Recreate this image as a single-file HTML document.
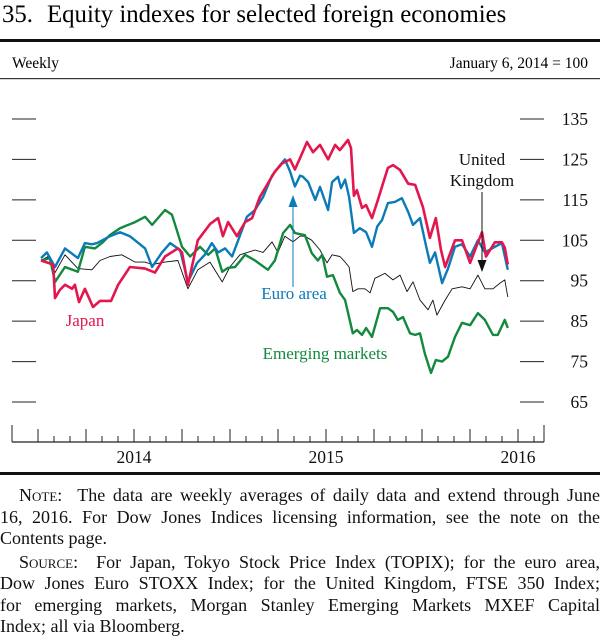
<!DOCTYPE html>
<html><head><meta charset="utf-8">
<style>
html,body{margin:0;padding:0;background:#fff;}
body{width:600px;height:635px;position:relative;overflow:hidden;font-family:"Liberation Serif",serif;color:#111;}
svg{position:absolute;left:0;top:0;}
.notes{position:absolute;left:0;top:485px;width:600px;font-size:18px;line-height:21.5px;}
.notes .ln{display:block;white-space:nowrap;text-align:justify;text-align-last:justify;}
.notes .last{text-align-last:left;}
.notes .ind{padding-left:19px;}
.src{margin-top:2px;}
.sc{font-variant:small-caps;}
</style></head>
<body>
<svg id="chart" width="600" height="635">
  <text x="2" y="22" font-size="24.8" font-family="Liberation Serif">35.</text>
  <text x="47" y="22" font-size="24.8" font-family="Liberation Serif">Equity indexes for selected foreign economies</text>
  <rect x="0" y="39" width="600" height="3" fill="#111"/>
  <text x="12" y="68" font-size="15.5" font-family="Liberation Serif">Weekly</text>
  <text x="588" y="68" font-size="15.5" text-anchor="end" font-family="Liberation Serif">January 6, 2014 = 100</text>
  <rect x="0" y="78" width="600" height="1.2" fill="#333"/>
  <rect x="0" y="472" width="600" height="3" fill="#111"/>
  <g id="axes"></g>
  <g id="series"></g>
  <g id="labels">
    <text x="85" y="326" font-size="17" fill="#e3164e" text-anchor="middle">Japan</text>
    <text x="294" y="299" font-size="17" fill="#0b7ab8" text-anchor="middle">Euro area</text>
    <text x="325" y="359" font-size="17" fill="#12893d" text-anchor="middle">Emerging markets</text>
    <text x="482" y="165" font-size="17" fill="#111" text-anchor="middle">United</text>
    <text x="482" y="186" font-size="17" fill="#111" text-anchor="middle">Kingdom</text>
    <line x1="293" y1="287" x2="293" y2="205" stroke="#0b7ab8" stroke-width="1"/>
    <polygon points="293,195 288.5,207 297.5,207" fill="#0b7ab8"/>
    <line x1="482" y1="192" x2="482" y2="262" stroke="#111" stroke-width="1"/>
    <polygon points="482,272 477.5,260 486.5,260" fill="#111"/>
  </g>
</svg>
<div class="notes">
<div>
<span class="ln ind"><span class="sc">Note</span>:&nbsp; The data are weekly averages of daily data and extend through June</span>
<span class="ln">16, 2016. For Dow Jones Indices licensing information, see the note on the</span>
<span class="ln last">Contents page.</span>
</div>
<div class="src">
<span class="ln ind"><span class="sc">Source</span>:&nbsp; For Japan, Tokyo Stock Price Index (TOPIX); for the euro area,</span>
<span class="ln">Dow Jones Euro STOXX Index; for the United Kingdom, FTSE 350 Index;</span>
<span class="ln">for emerging markets, Morgan Stanley Emerging Markets MXEF Capital</span>
<span class="ln last">Index; all via Bloomberg.</span>
</div>
</div>
<script>
// Data: weeks since Jan 6, 2014, index values (Jan 6, 2014 = 100)
const yTicks = [65, 75, 85, 95, 105, 115, 125, 135];
const yearLabels = ["2014", "2015", "2016"];
const japanWeeks = [0,3.3,3.8,5.1,6.5,8.4,9.2,10.3,11.9,14.1,16,19,20.9,24.1,28.2,30.9,33.6,37.1,38.2,39.8,42.5,45.8,48,49.3,50.7,53.1,55.3,57.2,59.3,62.1,63.4,65.3,67.5,68.8,70.2,72.1,73.7,75.6,77.8,79.7,81,83.2,84,84.8,85.6,87,88.1,89.7,91.3,93,94,95.4,97.3,99.5,101.4,103.5,105.4,107,108.4,109.5,112.2,114.1,116.3,118.2,119.5,120.6,123,124.9,125.7,126.5];
const japanValues = [100,99,90.7,92.7,94,93,94,89.7,93,88.5,90,90,94,98.4,98,97,101,103,102,94,105,109,110.5,106,109.5,106,109.5,110.5,115.7,120,122,124,125,122.5,125.3,129.3,126.8,128.6,125,128.6,127.3,129.8,127.8,116,117.4,113,113.7,110.5,115,120,122.9,123.6,122.4,119,118.7,113.2,105.6,110.5,102.6,98.4,105,105,99.4,104,107,101,104.5,104.5,103.2,99];
const euroWeeks = [0,1.6,3.8,6.5,10,11.9,13.8,15.2,18.7,21.4,24.1,28.2,30.1,32.8,35,37.7,39.8,42.3,44.4,46.3,48,49.9,51.8,54,55.8,58,60.2,62.6,64.8,66.1,67.5,68.8,70.2,71,72.4,74.3,75.6,77.8,78.9,80.5,81.3,82.4,83.5,84.8,86.4,88.1,89.7,91.1,92.4,94,95.9,97.8,99.5,100.8,102.7,104,105.4,106.8,108.7,110.3,112.2,114.1,116.3,118.4,120.3,123,124.9,126.5];
const euroValues = [100.6,102,98.4,103,100.6,104.3,104,104.3,106,107,106,103,98.4,102,104.3,102.6,94.7,99.4,101.4,104.3,102,103,101,106.4,110.8,112.5,115.7,121,123.6,125,122,118.3,121,120.7,119.4,115,118.2,112.5,119.4,120.7,117.9,120,115.7,106.8,108,107,103.4,108.4,110,114.2,114.5,115.4,112,108.8,110.5,105,99.4,102,94.4,98,103.4,104,101,105,102,103.4,104.3,97.7];
const emWeeks = [0,2.4,3.8,6.5,10,11.9,14.6,16.5,18.7,21.4,25.5,28.2,30.1,33.6,35.5,38.2,40.4,43.1,45.3,47.2,49.1,50.7,52.6,55.3,58,61.5,63.4,65.6,67.5,68.8,70.2,71.5,73.4,75,76.2,77.5,79.1,81,82.4,84.5,85.6,87,88.1,89.7,91.9,94,95.4,96.7,98.1,100,101.4,102.7,104,105.7,107,108.7,110.3,112.2,114.1,116.3,118.4,120.3,122.5,123.8,125.7,126.5];
const emValues = [100,100.6,94.7,98.4,97.2,103.4,103,104.3,106.3,108,109.5,110.8,108.8,112.5,111.3,103.4,101,103.4,101.4,103,97.2,98.2,98.4,101.4,100,97.7,100,106.8,108.8,106.8,106.5,106.3,101.8,100,101.4,96,96.4,92,90.2,82,82.8,81.6,83.3,81.1,88.2,88.2,87.3,85.3,86,82,81.6,82,77,72.2,75.4,75,76.2,81.1,84.6,84,87,85.3,81.6,81.6,85.3,83.3];
const ukWeeks = [0,1.9,3.8,6.5,10,13.8,16,18.7,21.9,25.5,28.2,30.1,33.6,37.1,39.8,42.5,45.8,49.1,51.2,53.9,58,60.2,62.6,64.2,66.1,68.3,70.2,71.5,73.4,75.6,77.5,78.9,81,82.4,83.5,84.5,85.9,87.8,89.2,90.5,93.2,95.4,97.3,99.2,100.8,102.7,104.9,106.2,107.3,109.5,111.4,114.1,116.3,118.4,120.3,122.5,124.4,125.7,126.5];
const ukValues = [100,101,97,101.4,98,97.7,100,101,101.4,99.6,99.6,99,99.6,100,93,97.7,99.6,94.7,98.4,101.4,102.6,102,104.6,102,106,104.6,106,106,105,102.6,99.4,101.4,101,99.6,98.4,92.3,93,93,92,95.6,96.8,95.2,96.4,92.3,94.7,90.2,87.8,90.2,86.5,90.2,93,93.5,93,96.4,93,93,94.4,95.2,91];

const NS = "http://www.w3.org/2000/svg";
const plotTop = 119, yMax = 135, pxPerUnit = 4.043;
const xStart = 41, pxPerWeek = 3.69;
function yScale(v){ return plotTop + (yMax - v) * pxPerUnit; }
function xScale(w){ return xStart + w * pxPerWeek; }
function mk(tag, attrs, parent){ const e = document.createElementNS(NS, tag); for (const k in attrs) e.setAttribute(k, attrs[k]); parent.appendChild(e); return e; }

const axes = document.getElementById('axes');
yTicks.forEach(function(v){
  const y = yScale(v);
  const l = mk('line', {x1:12, x2:36, y1:y, y2:y, stroke:'#222', 'stroke-width':1}, axes);
  
  
  const r = mk('line', {x1:520, x2:544, y1:y, y2:y, stroke:'#222', 'stroke-width':1}, axes);
  
  
  const t = mk('text', {x:588, y:y+6, 'font-size':17.5, 'text-anchor':'end', fill:'#111'}, axes);
  t.textContent = v;
  
  
});
const base = 442;
const bl = mk('line', {x1:12, x2:544, y1:base, y2:base, stroke:'#222', 'stroke-width':1.2}, axes);


[12, 544].forEach(function(x, i){
  const e = mk('line', {x1:x, x2:x, y1:425, y2:base, stroke:'#222', 'stroke-width':1}, axes);
  
  
});
for (let m = 0; m <= 31; m++){
  const x = 38 + m * 16;
  const h = (m % 3 === 0) ? 13 : 6;
  const t = mk('line', {x1:x, x2:x, y1:base-h, y2:base, stroke:'#222', 'stroke-width':1}, axes);
  
  
}
yearLabels.forEach(function(lbl, i){
  const t = mk('text', {x:38 + 96 + i*192, y:463, 'font-size':17.5, 'text-anchor':'middle', fill:'#111'}, axes);
  t.textContent = lbl;
  
  
});

const seriesG = document.getElementById('series');
function drawSeries(weeks, vals, color, w, name){
  const d = weeks.map(function(wk, i){ return (i ? 'L' : 'M') + xScale(wk).toFixed(1) + ' ' + yScale(vals[i]).toFixed(1); }).join(' ');
  const p = mk('path', {d:d, fill:'none', stroke:color, 'stroke-width':w, 'stroke-linejoin':'round'}, seriesG);
  
  
}
drawSeries(ukWeeks, ukValues, '#111', 0.9, 'uk-line');
drawSeries(emWeeks, emValues, '#12893d', 2.4, 'emerging-markets-line');
drawSeries(euroWeeks, euroValues, '#0b7ab8', 2.4, 'euro-area-line');
drawSeries(japanWeeks, japanValues, '#e3164e', 2.6, 'japan-line');
</script>
</body></html>
